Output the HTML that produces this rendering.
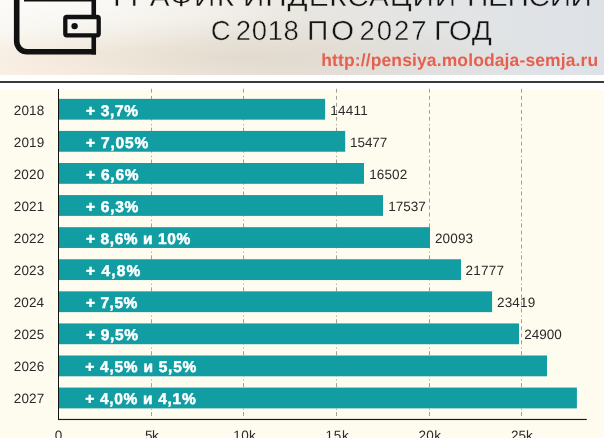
<!DOCTYPE html>
<html lang="ru"><head><meta charset="utf-8"><title>График индексации пенсий с 2018 по 2027 год</title>
<style>
html,body{margin:0;padding:0;background:#fff;}
body{width:604px;height:438px;overflow:hidden;position:relative;font-family:"Liberation Sans",sans-serif;text-rendering:geometricPrecision;}
#hdr{position:absolute;left:0;top:0;width:604px;height:74.6px;overflow:hidden;
 background:
  radial-gradient(ellipse 45% 70% at 8% 0%,rgba(255,255,255,.7) 0%,rgba(255,255,255,0) 100%),
  radial-gradient(ellipse 50% 55% at 40% 78%,rgba(216,203,186,.5) 0%,rgba(216,203,186,0) 100%),
  radial-gradient(ellipse 40% 70% at 6% 100%,rgba(253,242,228,.9) 0%,rgba(252,240,224,0) 100%),
  linear-gradient(90deg,#f8f5ee 0%,#f1ede5 25%,#e9e6e0 50%,#e3e4e4 70%,#dee2e7 100%);}
.t{position:absolute;white-space:nowrap;line-height:1;color:#111;transform-origin:0 0;}
.h1{font-size:27.5px;color:#141414;}
.url{font-size:17.5px;font-weight:bold;color:#e6604f;}
#rule{position:absolute;left:0;top:81px;width:604px;height:2px;background:#3a3a3a;}
#plot{position:absolute;left:0;top:89.6px;width:604px;height:349px;background:#fefcef;}
svg{position:absolute;left:0;top:0;}
.yr,.vl,.xl{font-size:13.5px;color:#2a2a2a;}
.bl{font-size:15.5px;font-weight:bold;color:#fff;-webkit-text-stroke:.5px #fff;}
</style></head><body>
<div id="hdr">
<svg width="120" height="75" viewBox="0 0 120 75">
 <path d="M16.7 -5 V41.3 a10.4 10.4 0 0 0 10.4 10.4 H96" fill="none" stroke="#111" stroke-width="5.6"/>
 <path d="M93.75 -5 V15 M93.75 37 V54.5" fill="none" stroke="#111" stroke-width="4.6"/>
 <path d="M24 0 H92" fill="none" stroke="#111" stroke-width="3.2"/>
 <rect x="65.3" y="17" width="33.4" height="18.3" rx="1.5" fill="none" stroke="#111" stroke-width="4.3"/>
 <circle cx="74.6" cy="26.1" r="3.2" fill="#111"/>
</svg>
<div class="t h1" style="left:112.59px;top:-17.0px;letter-spacing:1.32px;transform:scaleX(1.08);-webkit-text-stroke:0.4px rgb(240,236,228);">ГРАФИК</div>
<div class="t h1" style="left:243.19px;top:-17.0px;letter-spacing:0.84px;transform:scaleX(1.08);-webkit-text-stroke:0.4px rgb(231,229,225);">ИНДЕКСАЦИИ</div>
<div class="t h1" style="left:466.9px;top:-17.0px;letter-spacing:-0.33px;transform:scaleX(1.08);-webkit-text-stroke:0.4px rgb(224,227,230);">ПЕНСИЙ</div>
<div class="t h1" style="left:210.8px;top:17.0px;-webkit-text-stroke:0.4px rgb(237,234,227);">С</div>
<div class="t h1" style="left:235.79px;top:17.0px;letter-spacing:0.64px;-webkit-text-stroke:0.4px rgb(235,232,225);">2018</div>
<div class="t h1" style="left:306.8px;top:17.0px;letter-spacing:2.48px;transform:scaleX(1.08);-webkit-text-stroke:0.4px rgb(232,230,225);">ПО</div>
<div class="t h1" style="left:359.54px;top:17.0px;letter-spacing:1.96px;-webkit-text-stroke:0.4px rgb(229,229,227);">2027</div>
<div class="t h1" style="left:434.29px;top:17.0px;letter-spacing:0.38px;transform:scaleX(1.08);-webkit-text-stroke:0.4px rgb(226,228,229);">ГОД</div>
<div class="t url" style="left:321.26px;top:51.5px;letter-spacing:0.12px;">http://pensiya.molodaja-semja.ru</div>
</div>
<div id="rule"></div>
<div id="plot"></div>
<svg width="604" height="438" viewBox="0 0 604 438">
<path d="M151.5 88.8V127.7" stroke="#a09f98" stroke-width="1" fill="none" stroke-dasharray="3.9 3.2 3.8 3.2 3.8 3.3 3.8 3.1 3.8 3.6 1.1 2.5"/><path d="M151.5 127.7V406" stroke="#a09f98" stroke-width="1" fill="none" stroke-dasharray="3.9 3.2 3.9 3.1 3.8 3.1 3.9 3.3 1.1 2.63"/><path d="M151.5 408.8V416" stroke="#a09f98" stroke-width="1" fill="none" stroke-dasharray="1 2.3 3.9 3"/>
<path d="M243.5 88.8V127.7" stroke="#a09f98" stroke-width="1" fill="none" stroke-dasharray="3.9 3.2 3.8 3.2 3.8 3.3 3.8 3.1 3.8 3.6 1.1 2.5"/><path d="M243.5 127.7V406" stroke="#a09f98" stroke-width="1" fill="none" stroke-dasharray="3.9 3.2 3.9 3.1 3.8 3.1 3.9 3.3 1.1 2.63"/><path d="M243.5 408.8V416" stroke="#a09f98" stroke-width="1" fill="none" stroke-dasharray="1 2.3 3.9 3"/>
<path d="M336.5 88.8V127.7" stroke="#a09f98" stroke-width="1" fill="none" stroke-dasharray="3.9 3.2 3.8 3.2 3.8 3.3 3.8 3.1 3.8 3.6 1.1 2.5"/><path d="M336.5 127.7V406" stroke="#a09f98" stroke-width="1" fill="none" stroke-dasharray="3.9 3.2 3.9 3.1 3.8 3.1 3.9 3.3 1.1 2.63"/><path d="M336.5 408.8V416" stroke="#a09f98" stroke-width="1" fill="none" stroke-dasharray="1 2.3 3.9 3"/>
<path d="M429.5 88.8V127.7" stroke="#a09f98" stroke-width="1" fill="none" stroke-dasharray="3.9 3.2 3.8 3.2 3.8 3.3 3.8 3.1 3.8 3.6 1.1 2.5"/><path d="M429.5 127.7V406" stroke="#a09f98" stroke-width="1" fill="none" stroke-dasharray="3.9 3.2 3.9 3.1 3.8 3.1 3.9 3.3 1.1 2.63"/><path d="M429.5 408.8V416" stroke="#a09f98" stroke-width="1" fill="none" stroke-dasharray="1 2.3 3.9 3"/>
<path d="M521.5 88.8V127.7" stroke="#a09f98" stroke-width="1" fill="none" stroke-dasharray="3.9 3.2 3.8 3.2 3.8 3.3 3.8 3.1 3.8 3.6 1.1 2.5"/><path d="M521.5 127.7V406" stroke="#a09f98" stroke-width="1" fill="none" stroke-dasharray="3.9 3.2 3.9 3.1 3.8 3.1 3.9 3.3 1.1 2.63"/><path d="M521.5 408.8V416" stroke="#a09f98" stroke-width="1" fill="none" stroke-dasharray="1 2.3 3.9 3"/>
<rect x="59.0" y="98.85" width="266.1" height="20.8" fill="#129da3"/>
<rect x="59.0" y="130.93" width="286.2" height="20.8" fill="#129da3"/>
<rect x="59.0" y="163.01" width="305.0" height="20.8" fill="#129da3"/>
<rect x="59.0" y="195.09" width="324.0" height="20.8" fill="#129da3"/>
<rect x="59.0" y="227.17" width="371.0" height="20.8" fill="#129da3"/>
<rect x="59.0" y="259.25" width="402.0" height="20.8" fill="#129da3"/>
<rect x="59.0" y="291.33" width="433.1" height="20.8" fill="#129da3"/>
<rect x="59.0" y="323.41" width="460.0" height="20.8" fill="#129da3"/>
<rect x="59.0" y="355.49" width="488.0" height="20.8" fill="#129da3"/>
<rect x="59.0" y="387.57" width="517.9" height="20.8" fill="#129da3"/>
<rect x="58" y="89" width="1" height="331" fill="#111"/>
<rect x="58" y="418.9" width="528.8" height="1.15" fill="#1a1a1a"/>
</svg>
<div class="t bl" style="left:86.08px;top:104.0px;letter-spacing:0.65px;">+ 3,7%</div>
<div class="t bl" style="left:86.08px;top:136.0px;letter-spacing:0.81px;">+ 7,05%</div>
<div class="t bl" style="left:86.08px;top:168.0px;letter-spacing:0.77px;">+ 6,6%</div>
<div class="t bl" style="left:86.08px;top:200.0px;letter-spacing:0.71px;">+ 6,3%</div>
<div class="t bl" style="left:86.08px;top:232.0px;letter-spacing:0.57px;">+ 8,6% и 10%</div>
<div class="t bl" style="left:86.08px;top:264.0px;letter-spacing:1.09px;">+ 4,8%</div>
<div class="t bl" style="left:86.08px;top:296.0px;letter-spacing:0.51px;">+ 7,5%</div>
<div class="t bl" style="left:86.08px;top:328.0px;letter-spacing:0.65px;">+ 9,5%</div>
<div class="t bl" style="left:85.28px;top:360.0px;letter-spacing:0.74px;">+ 4,5% и 5,5%</div>
<div class="t bl" style="left:85.28px;top:392.0px;letter-spacing:0.69px;">+ 4,0% и 4,1%</div>
<div class="t yr" style="left:13.71px;top:104.0px;letter-spacing:0.18px;">2018</div>
<div class="t yr" style="left:13.71px;top:136.0px;letter-spacing:0.19px;">2019</div>
<div class="t yr" style="left:13.71px;top:168.0px;letter-spacing:0.15px;">2020</div>
<div class="t yr" style="left:13.71px;top:200.0px;letter-spacing:0.18px;">2021</div>
<div class="t yr" style="left:13.71px;top:232.0px;letter-spacing:0.19px;">2022</div>
<div class="t yr" style="left:13.71px;top:264.0px;letter-spacing:0.17px;">2023</div>
<div class="t yr" style="left:13.71px;top:296.0px;letter-spacing:0.1px;">2024</div>
<div class="t yr" style="left:13.71px;top:328.0px;letter-spacing:0.18px;">2025</div>
<div class="t yr" style="left:13.71px;top:360.0px;letter-spacing:0.19px;">2026</div>
<div class="t yr" style="left:13.71px;top:392.0px;letter-spacing:0.19px;">2027</div>
<div class="t vl" style="left:330.26px;top:104.0px;letter-spacing:0.23px;">14411</div>
<div class="t vl" style="left:350.06px;top:136.0px;letter-spacing:-0.09px;">15477</div>
<div class="t vl" style="left:369.16px;top:168.0px;letter-spacing:0.11px;">16502</div>
<div class="t vl" style="left:388.26px;top:200.0px;letter-spacing:-0.01px;">17537</div>
<div class="t vl" style="left:434.91px;top:232.0px;letter-spacing:0.16px;">20093</div>
<div class="t vl" style="left:465.61px;top:264.0px;letter-spacing:0.23px;">21777</div>
<div class="t vl" style="left:497.01px;top:296.0px;letter-spacing:0.17px;">23419</div>
<div class="t vl" style="left:524.31px;top:328.0px;letter-spacing:0.01px;">24900</div>
<div class="t xl" style="left:54.63px;top:428.9px;">0</div>
<div class="t xl" style="left:145.07px;top:428.9px;letter-spacing:-0.61px;">5k</div>
<div class="t xl" style="left:233.36px;top:428.9px;letter-spacing:0.28px;">10k</div>
<div class="t xl" style="left:325.56px;top:428.9px;letter-spacing:0.78px;">15k</div>
<div class="t xl" style="left:418.51px;top:428.9px;letter-spacing:0.35px;">20k</div>
<div class="t xl" style="left:510.91px;top:428.9px;letter-spacing:0.1px;">25k</div>
</body></html>
